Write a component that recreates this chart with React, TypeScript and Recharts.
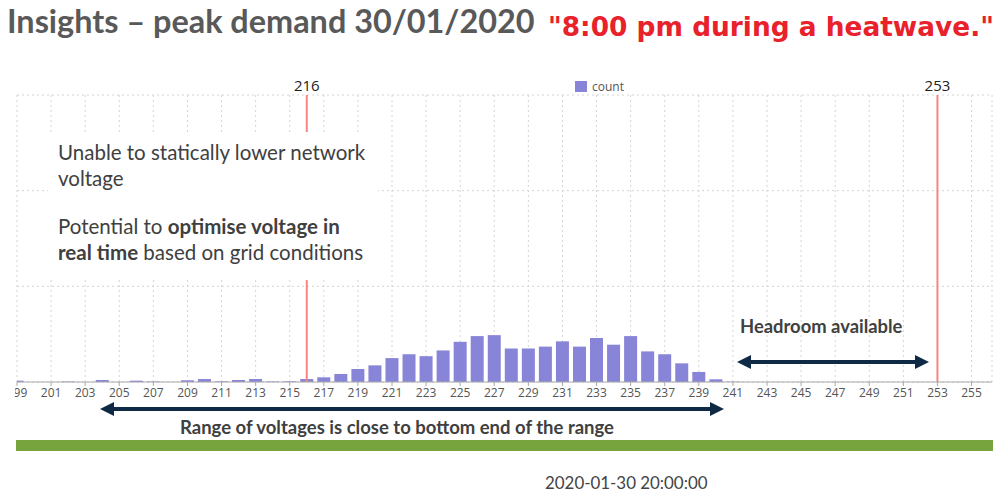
import React from 'react';
import { BarChart, Bar, XAxis, YAxis, CartesianGrid, ReferenceLine, Legend } from 'recharts';

const voltages = [
  199, 200, 201, 202, 203, 204, 205, 206, 207, 208, 209, 210, 211, 212, 213, 214, 215,
  216, 217, 218, 219, 220, 221, 222, 223, 224, 225, 226, 227, 228, 229, 230, 231, 232,
  233, 234, 235, 236, 237, 238, 239, 240, 241,
];
const counts = [
  1.4, 0, 0, 0.5, 0, 2.1, 0, 1.4, 0.5, 0, 1.8, 3.1, 0.7, 2.1, 3.1, 0.5, 0.7,
  3.1, 4.9, 8.4, 13.6, 17.4, 25, 29, 27, 33, 42, 48, 49, 35, 35, 37, 42.5, 37,
  46, 39, 48, 32, 29, 19.5, 10.5, 2.8, 0.3,
];
const xTicks = [
  199, 201, 203, 205, 207, 209, 211, 213, 215, 217, 219, 221, 223, 225, 227, 229, 231,
  233, 235, 237, 239, 241, 243, 245, 247, 249, 251, 253, 255,
];
const yTicks = [0, 100, 200, 300];
const limits = [216, 253];

const data = voltages.map((v, i) => ({ voltage: v, count: counts[i] }));

const NAVY = '#0f2a44';

function Arrow({ x1, x2, y }: { x1: number; x2: number; y: number }) {
  const hl = 14;
  const hh = 7;
  return (
    <g>
      <line x1={x1 + hl - 2} x2={x2 - hl + 2} y1={y} y2={y} stroke={NAVY} strokeWidth={4} />
      <polygon points={`${x1},${y} ${x1 + hl},${y - hh} ${x1 + hl},${y + hh}`} fill={NAVY} />
      <polygon points={`${x2},${y} ${x2 - hl},${y - hh} ${x2 - hl},${y + hh}`} fill={NAVY} />
    </g>
  );
}

const LegendContent = (props: any) => {
  const items = props.payload || [];
  return (
    <div style={{ display: 'flex', alignItems: 'center' }}>
      {items.map((it: any) => (
        <div key={it.value} style={{ display: 'flex', alignItems: 'center', fontFamily: 'Open Sans', fontSize: 12, color: '#555' }}>
          <span style={{ display: 'inline-block', width: 12, height: 11, background: it.color, marginRight: 5 }} />
          {it.value}
        </div>
      ))}
    </div>
  );
};

export default function App() {
  return (
    <div style={{ position: 'fixed', left: 0, top: 0, width: 1000, height: 497, background: '#fff', overflow: 'hidden' }}>
      <div style={{ position: 'absolute', left: 15, top: 0 }}>
        <BarChart width={985} height={497} data={data} margin={{ top: 95, right: 8, bottom: 85, left: 2 }}>
          <CartesianGrid strokeDasharray="2 3" stroke="#d4d4d4" />
          <XAxis
            dataKey="voltage"
            type="number"
            domain={[199, 256.2]}
            ticks={xTicks}
            interval={0}
            allowDataOverflow
            height={30}
            tickSize={4}
            tickMargin={2}
            stroke="#aaa"
            tick={{ fill: '#555', fontSize: 12, fontFamily: 'Open Sans' }}
          />
          <YAxis hide type="number" domain={[0, 300]} ticks={yTicks} />
          <Legend
            layout="horizontal"
            verticalAlign="middle"
            align="center"
            wrapperStyle={{ top: 78, left: 560, width: 'auto' }}
            content={LegendContent}
          />
          <Bar dataKey="count" name="count" fill="#8884d8" barSize={13} isAnimationActive={false} />
          {limits.map((l) => (
            <ReferenceLine
              key={l}
              x={l}
              stroke="#f4877f"
              strokeWidth={2}
              label={{ value: String(l), position: 'top', fill: '#222', fontSize: 15, offset: 4, fontFamily: 'Open Sans' }}
            />
          ))}
        </BarChart>
      </div>

      <div style={{ position: 'absolute', left: 48, top: 132, width: 330, height: 148, background: '#fff' }} />
      <div style={{ position: 'absolute', left: 58, top: 139, fontFamily: 'Lato', fontSize: 20.5, lineHeight: '26px', color: '#404040', whiteSpace: 'nowrap' }}>
        Unable to statically lower network
        <br />
        voltage
      </div>
      <div style={{ position: 'absolute', left: 58, top: 213, fontFamily: 'Lato', fontSize: 20.5, lineHeight: '26px', color: '#404040', whiteSpace: 'nowrap' }}>
        Potential to <b>optimise voltage in</b>
        <br />
        <b>real time</b> based on grid conditions
      </div>

      <div style={{ position: 'absolute', left: 7, top: 1, fontFamily: 'Lato', fontWeight: 700, fontSize: 32.4, lineHeight: '40px', color: '#595959', whiteSpace: 'nowrap' }}>
        Insights – peak demand 30/01/2020
      </div>
      <div style={{ position: 'absolute', left: 548, top: 10, fontFamily: 'DejaVu Sans', fontWeight: 700, fontSize: 26.4, lineHeight: '34px', color: '#e8212b', whiteSpace: 'nowrap' }}>
        "8:00 pm during a heatwave."
      </div>

      <div style={{ position: 'absolute', left: 740, top: 314, fontFamily: 'Lato', fontWeight: 700, fontSize: 18.4, lineHeight: '24px', color: '#404040', whiteSpace: 'nowrap' }}>
        Headroom available
      </div>
      <div style={{ position: 'absolute', left: 180, top: 415, fontFamily: 'Lato', fontWeight: 700, fontSize: 18.5, lineHeight: '24px', color: '#404040', whiteSpace: 'nowrap' }}>
        Range of voltages is close to bottom end of the range
      </div>

      <svg style={{ position: 'absolute', left: 0, top: 0, pointerEvents: 'none' }} width={1000} height={497}>
        <Arrow x1={737} x2={929} y={362} />
        <Arrow x1={100} x2={724} y={409} />
      </svg>

      <div style={{ position: 'absolute', left: 16, top: 440, width: 977, height: 11, background: '#77a43d' }} />
      <div style={{ position: 'absolute', left: 545, top: 473, fontFamily: 'Lato', fontSize: 16.9, lineHeight: '20px', color: '#444', whiteSpace: 'nowrap' }}>
        2020-01-30 20:00:00
      </div>
    </div>
  );
}
